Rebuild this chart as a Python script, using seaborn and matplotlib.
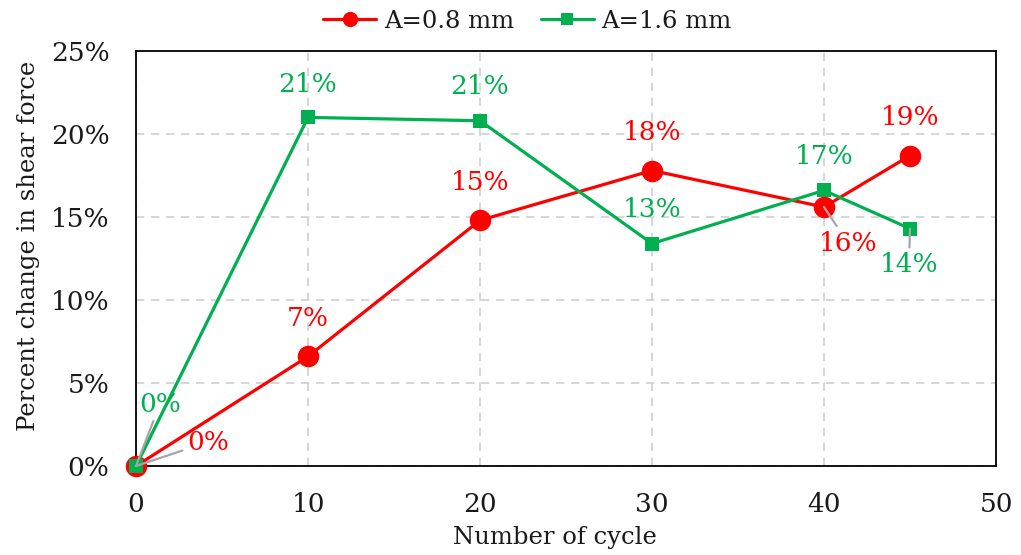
import matplotlib
matplotlib.use("Agg")
import matplotlib.pyplot as plt
import seaborn as sns
import pandas as pd
from matplotlib.ticker import FuncFormatter
from matplotlib.lines import Line2D

# Data: percent change in shear force vs. number of cycles
cycles = [0, 10, 20, 30, 40, 45]
change_08 = [0.0, 6.6, 14.8, 17.8, 15.6, 18.7]   # A=0.8 mm
change_16 = [0.0, 21.0, 20.8, 13.4, 16.6, 14.3]  # A=1.6 mm
series_names = ["A=0.8 mm", "A=1.6 mm"]
x_ticks = [0, 10, 20, 30, 40, 50]
y_ticks = [0, 5, 10, 15, 20, 25]

RED = "#FF0000"
GREEN = "#00B050"
TEXT = "#1a1a1a"

sns.set_theme(style="white")
plt.rcParams["font.family"] = ["DejaVu Serif"]

df = pd.DataFrame({
    "cycle": cycles * 2,
    "change": change_08 + change_16,
    "series": [series_names[0]] * len(cycles) + [series_names[1]] * len(cycles),
})

fig = plt.figure(figsize=(10.21, 5.55), dpi=100)
ax = fig.add_axes([136 / 1021, 1 - 466 / 555, (996 - 136) / 1021, (466 - 51) / 555])

sns.lineplot(data=df[df.series == series_names[0]], x="cycle", y="change",
             color=RED, marker="o", markersize=15.5, markeredgewidth=0,
             linewidth=2.3, ax=ax, legend=False, zorder=3)
sns.lineplot(data=df[df.series == series_names[1]], x="cycle", y="change",
             color=GREEN, marker="s", markersize=10, markeredgewidth=0,
             linewidth=2.3, ax=ax, legend=False, zorder=4)

ax.set_xlim(0, 50)
ax.set_ylim(0, 25)
ax.set_xticks(x_ticks)
ax.set_yticks(y_ticks)
ax.yaxis.set_major_formatter(FuncFormatter(lambda v, p: f"{v:.0f}%"))
ax.tick_params(axis="y", length=0, labelsize=19, colors=TEXT, pad=19)
ax.tick_params(axis="x", length=0, labelsize=19, colors=TEXT, pad=19)

ax.grid(True, color="#d0d0d0", linestyle=(0, (5, 4)), linewidth=1.2)
ax.set_axisbelow(True)
for s in ax.spines.values():
    s.set_visible(True)
    s.set_color("black")
    s.set_linewidth(1.3)

ax.set_xlabel("Number of cycle", fontsize=17.5, color=TEXT)
ax.set_ylabel("Percent change in shear force", fontsize=17.5, color=TEXT)
ax.xaxis.set_label_coords(0.487, -0.145)
ax.yaxis.set_label_coords(-0.112, 0.53)

# Data labels (offsets in pixels), with gray leader lines where labels sit away
offsets_08 = [(72, 24), (0, 38), (0, 38), (0, 38), (24, -36), (0, 38)]
offsets_16 = [(24, 62), (0, 33), (0, 34), (0, 34), (0, 34), (-1, -36)]
leaders_08 = {0, 4}
leaders_16 = {0, 5}

def draw_labels(values, offsets, color, leaders):
    for i, (x, v) in enumerate(zip(cycles, values)):
        dx, dy = offsets[i]
        arrow = None
        if i in leaders:
            arrow = dict(arrowstyle="-", color="#a6a6a6", lw=1.6, shrinkA=1, shrinkB=0)
        ax.annotate(f"{round(v):.0f}%", xy=(x, v), xytext=(dx, dy),
                    textcoords="offset pixels", ha="center", va="center",
                    fontsize=19, color=color, arrowprops=arrow, zorder=6,
                    annotation_clip=False)

draw_labels(change_08, offsets_08, RED, leaders_08)
draw_labels(change_16, offsets_16, GREEN, leaders_16)

for ln in ax.lines:
    ln.set_clip_on(False)

handles = [
    Line2D([], [], color=RED, marker="o", markersize=11, markeredgewidth=0, linewidth=2.3),
    Line2D([], [], color=GREEN, marker="s", markersize=8, markeredgewidth=0, linewidth=2.3),
]
leg = ax.legend(handles, series_names, loc="lower center", bbox_to_anchor=(0.455, 1.012),
                ncol=2, frameon=False, fontsize=17.5, handlelength=2.2,
                columnspacing=1.1, handletextpad=0.3, borderaxespad=0.15)
for t in leg.get_texts():
    t.set_color(TEXT)

fig.savefig("out.png", dpi=100)
